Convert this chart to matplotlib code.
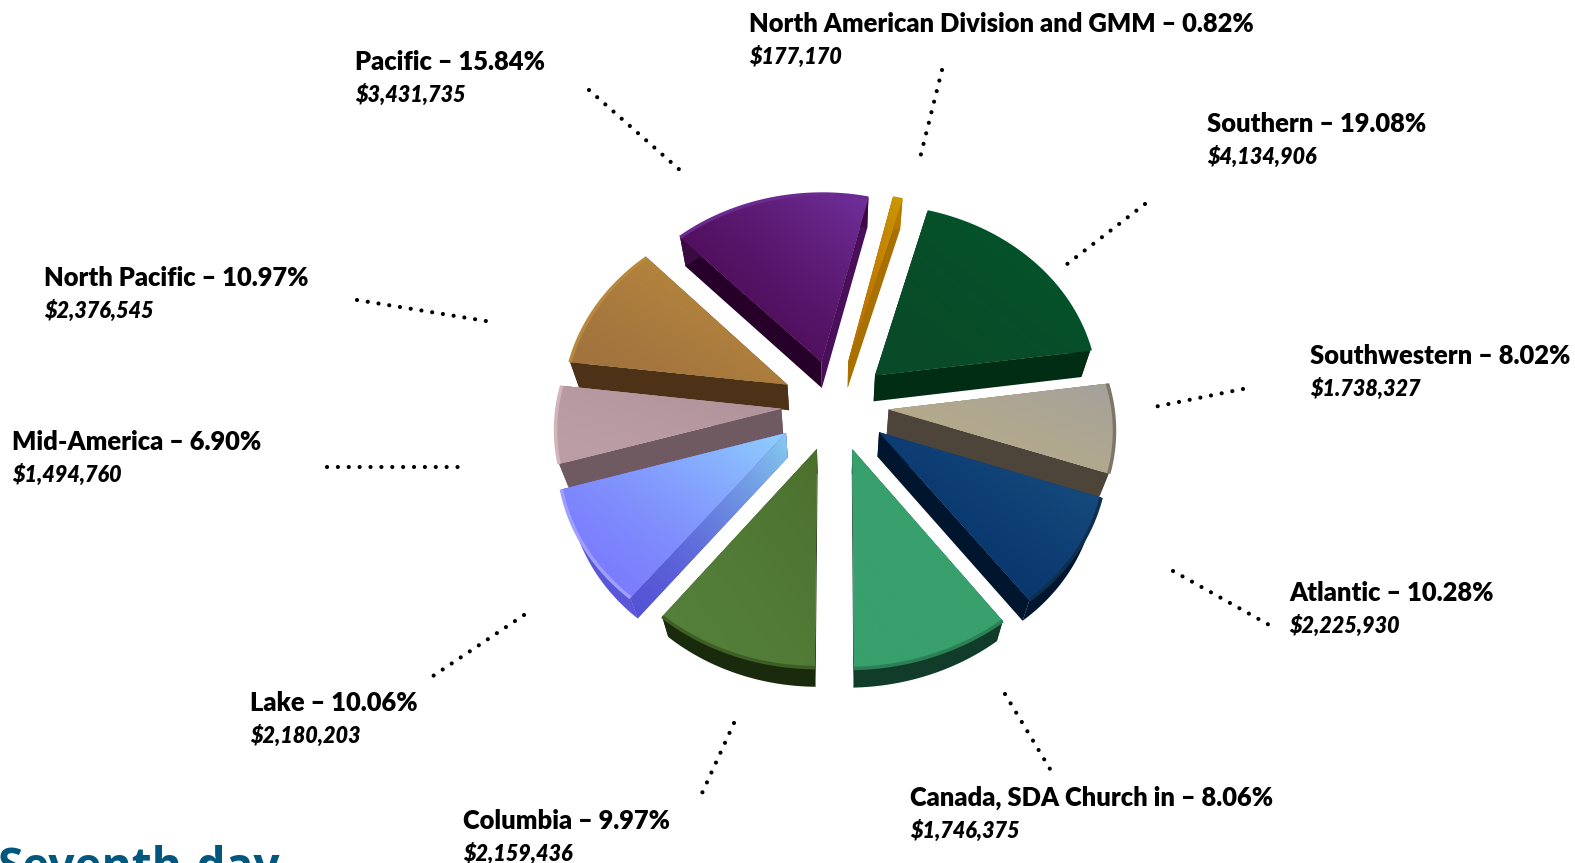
import matplotlib
matplotlib.use("Agg")
import matplotlib.pyplot as plt
from matplotlib.colors import to_rgb
from matplotlib.transforms import Transform
import numpy as np

names = ["North American Division and GMM", "Southern", "Southwestern", "Atlantic",
         "Canada, SDA Church in", "Columbia", "Lake", "Mid-America", "North Pacific", "Pacific"]
percents = [0.82, 19.08, 8.02, 10.28, 8.06, 9.97, 10.06, 6.90, 10.97, 15.84]
amounts = ["$177,170", "$4,134,906", "$1.738,327", "$2,225,930", "$1,746,375",
           "$2,159,436", "$2,180,203", "$1,494,760", "$2,376,545", "$3,431,735"]

# colours, same order as names
face_low = ["#c06f00", "#0a4a28", "#b8ab88", "#05316a", "#38a06c", "#54803a", "#7a78fc", "#bb9ea6", "#a0733f", "#4a0850"]
face_high = ["#c99a00", "#00582c", "#a3a19c", "#1d5585", "#38a06c", "#4c702d", "#8fd0ff", "#ad9097", "#c4923a", "#71309c"]
wall_start = ["#b87800", "#002d14", "#4e453a", "#00152e", "#123c2a", "#1a2a0d", "#5553d5", "#705a61", "#4e3218", "#260028"]
wall_end = ["#a87000", "#002d14", "#4e453a", "#00152e", "#123c2a", "#1a2a0d", "#5553d5", "#705a61", "#4e3218", "#4a0f5a"]
arc_wall = ["#b87800", "#002d14", "#4e453a", "#00152e", "#123c2a", "#1a2a0d", "#5a58d8", "#705a61", "#4e3218", "#3a0a40"]
bevel = ["#c99a00", "#00522a", "#7d7668", "#0f2f4f", "#2c8055", "#3d5e24", "#a09eff", "#d2b4bd", "#b8883c", "#6a2a90"]

# label spots in pixels (left, baseline of name line)
label_x = [749, 1207, 1310, 1289, 910, 463, 250, 12, 44, 355]
label_y = [32, 132, 364, 601, 806, 829, 711, 450, 286, 70]
leaders = [((942, 70), (919, 162)), ((1145, 204), (1062, 268)), ((1243, 389), (1149, 408)),
           ((1173, 571), (1271, 626)), ((1005, 694), (1050, 769)), ((734, 723), (698, 802)),
           ((524, 615), (430, 678)), ((327, 467), (459, 467)), ((357, 300), (486, 321)),
           ((589, 90), (681, 171))]

CX, CY, RX, RY = 835, 405, 224, 232
TILT, PERSP = 0.82, 0.09


class Top(Transform):
    # pie units to pixels, top face
    input_dims = output_dims = 2
    is_affine = False
    has_inverse = False

    def transform_non_affine(self, v):
        v = np.asarray(v, dtype=float)
        # the picture's wedges are not quite at their true angles
        r = np.hypot(v[:, 0], v[:, 1])
        cw = np.degrees(np.arctan2(v[:, 0], v[:, 1])) % 360
        cw = cw - np.interp(cw, [0, 85, 114, 151, 180, 216, 252, 277, 360],
                            [0, 3, 5, 8, 0, -2.5, -1.5, 0, 0])
        x = r * np.sin(np.radians(cw))
        y = r * np.cos(np.radians(cw))
        s = 1 / (1 + PERSP * y)
        return np.column_stack([CX + RX * x * s, CY - RY * TILT * y * s])


top = Top()


def sink(p):
    # bottom face, pulled down and toward the middle
    p = np.asarray(p, dtype=float)
    return np.column_stack([p[:, 0] + 0.035 * (CX - p[:, 0]), p[:, 1] + 0.023 * (1500 - p[:, 1])])


def gradient(patch, pts, c1, c2, z):
    x0, y0 = pts.min(axis=0)
    x1, y1 = pts.max(axis=0)
    xx, yy = np.meshgrid(np.linspace(0, 1, 80), np.linspace(1, 0, 80))
    t = ((xx + yy) / 2)[..., None] ** 1.6
    img = np.array(to_rgb(c1)) * (1 - t) + np.array(to_rgb(c2)) * t
    im = ax.imshow(img, extent=(x0, x1, y1, y0), origin="upper", zorder=z, aspect="auto",
                   interpolation="bilinear")
    im.set_clip_path(patch)


fig = plt.figure(figsize=(15.75, 8.63), dpi=100)
ax = fig.add_axes([0, 0, 1, 1])

explode = [0.24, 0.24, 0.24, 0.24, 0.24, 0.24, 0.26, 0.24, 0.24, 0.24]
wedges, _ = ax.pie(percents, explode=explode, startangle=90 - 13.5, counterclock=False, radius=1)

for i, w in enumerate(wedges):
    ang = np.radians(np.linspace(w.theta1, w.theta2, 50))
    cx, cy = w.center
    arc = np.column_stack([cx + w.r * np.cos(ang), cy + w.r * np.sin(ang)])
    apex = np.array([[cx, cy]])
    arc_t = top.transform(arc)
    apex_t = top.transform(apex)
    arc_b, apex_b = sink(arc_t), sink(apex_t)

    # stack from the far wedges to the near ones
    z = 2 + (arc_t[:, 1].mean() + apex_t[0, 1]) / 1000
    w.set_transform(top + ax.transData)
    w.set_zorder(z + 0.003)
    w.set_facecolor(face_low[i])
    w.set_edgecolor("none")

    # theta2 is where the wedge starts going clockwise, lower wall goes on top
    z_start = z + 0.001 if arc_t[-1, 1] > arc_t[0, 1] else z
    z_end = z if arc_t[-1, 1] > arc_t[0, 1] else z + 0.001
    xs = np.r_[apex_t[:, 0], arc_t[-1, 0], arc_b[-1, 0], apex_b[:, 0]]
    ys = np.r_[apex_t[:, 1], arc_t[-1, 1], arc_b[-1, 1], apex_b[:, 1]]
    side = ax.fill(xs, ys, color=wall_start[i], zorder=z_start, lw=0)[0]
    if names[i] == "Lake":
        gradient(side, np.column_stack([xs, ys]), "#5553d5", "#86ccf0", z_start + 0.0005)
    ax.fill(np.r_[apex_t[:, 0], arc_t[0, 0], arc_b[0, 0], apex_b[:, 0]],
            np.r_[apex_t[:, 1], arc_t[0, 1], arc_b[0, 1], apex_b[:, 1]],
            color=wall_end[i], zorder=z_end, lw=0)
    ax.fill(np.r_[arc_t[:, 0], arc_b[::-1, 0]], np.r_[arc_t[:, 1], arc_b[::-1, 1]],
            color=arc_wall[i], zorder=z + 0.002, lw=0)
    gradient(w, np.vstack([arc_t, apex_t]), face_low[i], face_high[i], z + 0.004)
    ax.plot(arc_t[:, 0], arc_t[:, 1], color=bevel[i], lw=2.5, zorder=z + 0.005,
            solid_capstyle="butt")

for (a, b) in leaders:
    ax.plot([a[0], b[0]], [a[1], b[1]], color="black", lw=3, ls=(0, (0.01, 2.6)),
            dash_capstyle="round", zorder=5)

for i in range(len(names)):
    ax.text(label_x[i], label_y[i], f"{names[i]} – {percents[i]:.2f}%", family="Lato",
            weight=800, fontsize=18.4, va="baseline", ha="left", parse_math=False)
    ax.text(label_x[i], label_y[i] + 32, amounts[i], family="Lato", weight=800,
            style="italic", fontsize=15.6, va="baseline", ha="left", parse_math=False)

ax.text(-2, 881, "Seventh-day", family="Open Sans", weight="bold", fontsize=33,
        color="#00587f", va="baseline", ha="left")

ax.set_xlim(0, 1575)
ax.set_ylim(863, 0)
ax.set_aspect("auto")
ax.axis("off")
fig.savefig("out.png", dpi=100, facecolor="white")
